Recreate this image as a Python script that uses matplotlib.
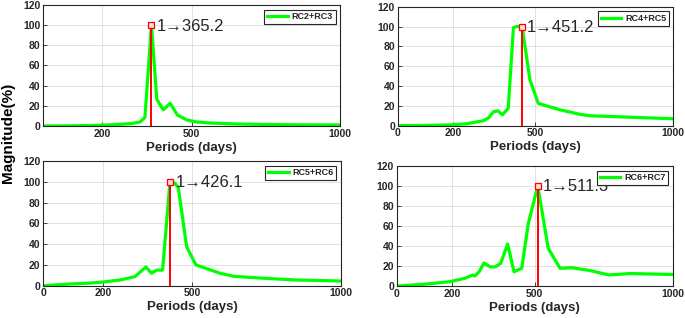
import matplotlib
matplotlib.use("Agg")
import matplotlib.pyplot as plt

plt.rcParams['font.family'] = ['Liberation Sans', 'DejaVu Sans']

# Periods (days) and magnitude (%) for each pair of components
x_rc23 = [0, 50, 100, 150, 200, 250, 300, 327, 343, 365.2, 383, 405, 428, 452, 484, 517, 560, 650, 750, 850, 1000]
y_rc23 = [0, 0.1, 0.2, 0.4, 0.8, 1.5, 2.5, 4, 8.5, 100, 26.5, 16, 22.5, 11, 6, 4, 3, 2, 1.5, 1.2, 1]

x_rc45 = [0, 100, 190, 250, 311, 330, 347, 363, 380, 401, 420, 432, 451.2, 480, 510, 589, 661, 700, 800, 900, 1000]
y_rc45 = [0, 0.3, 0.8, 2, 5, 8, 14, 15, 11, 17.5, 99, 100, 100, 46, 22.5, 16, 11.5, 10, 9, 8, 7]

x_rc56 = [0, 100, 157, 200, 258, 308, 345, 364, 381, 401, 426.1, 443, 454, 482, 513, 594, 640, 750, 850, 1000]
y_rc56 = [0, 1.8, 2.5, 3.5, 5.5, 8.7, 18, 12, 15, 15, 100, 98.5, 94, 37.5, 20, 12, 9, 7, 5.5, 4.5]

x_rc67 = [0, 97, 193, 247, 275, 283, 299, 316, 338, 356, 377, 402, 425, 453, 477, 511.3, 549, 592, 634, 700, 770, 845, 1000]
y_rc67 = [0, 1.7, 4.3, 7.7, 11, 10, 14.3, 23, 19.3, 19, 22.7, 42, 14.3, 17.7, 62.7, 100, 37.7, 17.7, 18.3, 15.5, 11, 12.5, 11.5]

labels = ["RC2+RC3", "RC4+RC5", "RC5+RC6", "RC6+RC7"]
peaks = [365.2, 451.2, 426.1, 511.3]
series = [(x_rc23, y_rc23), (x_rc45, y_rc45), (x_rc56, y_rc56), (x_rc67, y_rc67)]

# axes rectangles in figure fractions (left, bottom, width, height)
rects = [
    [0.0628, 0.6038, 0.4336, 0.3805],
    [0.5806, 0.6047, 0.4023, 0.3742],
    [0.0632, 0.1016, 0.4342, 0.3921],
    [0.5791, 0.1006, 0.4029, 0.3774],
]

fig = plt.figure(figsize=(6.85, 3.18), dpi=100)
dark = '#262626'

for i, (rect, (xs, ys), lab, pk) in enumerate(zip(rects, series, labels, peaks)):
    ax = fig.add_axes(rect)
    ax.plot(xs, ys, color='#00ff00', lw=2.3, label=lab, zorder=2)
    ax.plot([pk, pk], [0, 100], color='#ff0000', lw=1.4, zorder=3)
    ax.plot([pk], [100], marker='s', ms=4, mfc='#ffdddd', mec='#ff0000', mew=0.9, zorder=4)
    ax.text(pk + 18, 99, "1\u2192%.1f" % pk, fontsize=12, color=dark, va='center', ha='left', zorder=3)

    ax.set_xlim(0, 1000)
    ax.set_ylim(0, 120)
    if i == 0:
        ax.set_xticks([200, 500, 1000])
    else:
        ax.set_xticks([0, 200, 500, 1000])
    ax.set_yticks(range(0, 121, 20))
    ax.grid(True, color='#dcdcdc', lw=0.6)
    ax.set_axisbelow(True)
    ax.tick_params(direction='in', length=3, width=0.6, colors=dark, labelsize=7.5, pad=2)
    for t in ax.get_xticklabels() + ax.get_yticklabels():
        t.set_fontweight('bold')
    for s in ax.spines.values():
        s.set_color(dark)
        s.set_linewidth(0.8)
    ax.set_xlabel("Periods (days)", fontsize=9.5, fontweight='bold', color=dark, labelpad=2)

    leg = ax.legend(loc='upper right', fontsize=6.5, handlelength=2.3, borderpad=0.3,
                    handletextpad=0.4, borderaxespad=0.5, fancybox=False, framealpha=1)
    leg.get_frame().set_edgecolor(dark)
    leg.get_frame().set_linewidth(0.8)
    for t in leg.get_texts():
        t.set_fontweight('bold')
        t.set_color(dark)

fig.text(0.0124, 0.582, "Magnitude(%)", rotation=90, fontsize=11, fontweight='bold',
         ha='center', va='center')

fig.savefig("out.png", dpi=100)
